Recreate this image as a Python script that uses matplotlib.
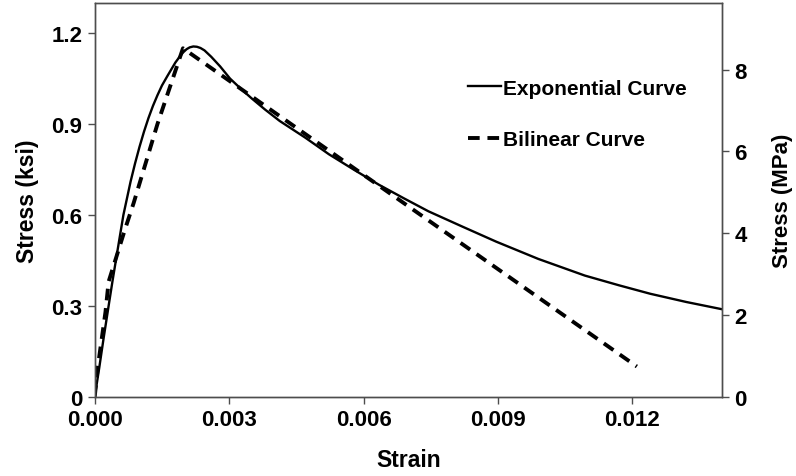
import matplotlib
matplotlib.use('Agg')
from matplotlib import pyplot
import matplotlib.ticker as ticker

pyplot.rcParams['font.family'] = ['Liberation Sans', 'DejaVu Sans']
pyplot.rcParams['font.weight'] = 'bold'

# exponential curve (strain, ksi)
exp_strain = [0.0, 0.00010, 0.00020, 0.00031, 0.00040, 0.00050, 0.00064, 0.00072,
              0.00080, 0.00090, 0.00100, 0.00110, 0.00120, 0.00130, 0.00140,
              0.00150, 0.00162, 0.00172, 0.00180, 0.00190, 0.00197, 0.00205,
              0.00212, 0.00220, 0.00228, 0.00236, 0.00245, 0.00260, 0.00280,
              0.00302, 0.00325, 0.00350, 0.00380, 0.00413, 0.00470, 0.00523,
              0.00580, 0.00634, 0.00690, 0.00745, 0.00820, 0.00896, 0.00990,
              0.01094, 0.01170, 0.01240, 0.01320, 0.01400]
exp_stress = [0.0, 0.095, 0.195, 0.30, 0.385, 0.475, 0.60, 0.655,
              0.71, 0.77, 0.825, 0.875, 0.92, 0.96, 0.995,
              1.027, 1.058, 1.083, 1.103, 1.123, 1.136, 1.147,
              1.153, 1.156, 1.155, 1.151, 1.143, 1.122, 1.090,
              1.05, 1.018, 0.985, 0.948, 0.91, 0.855, 0.80,
              0.748, 0.70, 0.655, 0.612, 0.562, 0.512, 0.455,
              0.400, 0.368, 0.340, 0.313, 0.289]

# bilinear curve (strain, ksi)
bil_strain = [0.0, 0.00007, 0.00024, 0.00031, 0.00067, 0.00087, 0.00140, 0.00197, 0.01210]
bil_stress = [0.0, 0.10, 0.28, 0.38, 0.55, 0.64, 0.90, 1.15, 0.10]

x_ticks = [0.000, 0.003, 0.006, 0.009, 0.012]
ksi_ticks = [0, 0.3, 0.6, 0.9, 1.2]
ksi_labels = ['0', '0.3', '0.6', '0.9', '1.2']
mpa_ticks = [0, 2, 4, 6, 8]

spine_c = '#4d4d4d'

fig = pyplot.figure(figsize=(7.96, 4.77), dpi=100)
ax = fig.add_axes([0.119, 0.166, 0.788, 0.826])
ax2 = ax.twinx()

ax.plot(exp_strain, exp_stress, c='k', lw=1.7, label='Exponential Curve')
ax.plot(bil_strain, bil_stress, c='k', lw=2.8, dashes=(3, 2), label='Bilinear Curve')

ax.set_xlim(0, 0.014)
ax.set_ylim(0, 1.3)
ax2.set_ylim(0, 9.63)

ax.set_xticks(x_ticks)
ax.xaxis.set_major_formatter(ticker.FormatStrFormatter('%.3f'))
ax.set_yticks(ksi_ticks)
ax.set_yticklabels(ksi_labels)
ax2.set_yticks(mpa_ticks)

for a in (ax, ax2):
    for s in a.spines.values():
        s.set_color(spine_c)
        s.set_linewidth(1.0)
    a.tick_params(direction='out', length=5, width=1, color=spine_c,
                  labelsize=16, pad=4)

ax.set_xlabel('Strain', fontsize=16.5, fontweight='bold', labelpad=13)
ax.set_ylabel('Stress (ksi)', fontsize=16.5, fontweight='bold', labelpad=9)
ax2.set_ylabel('Stress (MPa)', fontsize=16, fontweight='bold', labelpad=18)

ax.legend(loc='upper left', bbox_to_anchor=(0.565, 0.855), frameon=False,
          fontsize=15, handlelength=1.6, handletextpad=0.1, labelspacing=1.55)

fig.savefig('out.png')
